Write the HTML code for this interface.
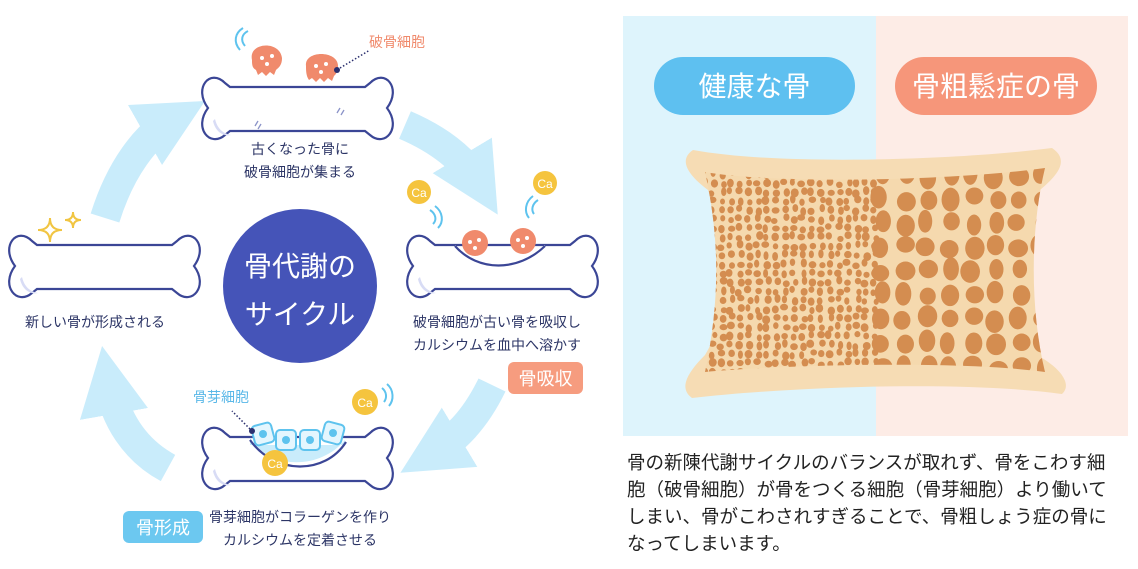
<!DOCTYPE html>
<html><head><meta charset="utf-8">
<style>
html,body{margin:0;padding:0;background:#fff;}
body{width:1138px;height:569px;position:relative;overflow:hidden;font-family:"Liberation Sans","Noto Sans CJK JP",sans-serif;}
.t{position:absolute;color:#2c3566;font-size:14px;white-space:nowrap;text-align:center;line-height:23px}
.p{position:absolute;color:#222;font-size:18.5px;left:627px;line-height:27px;white-space:nowrap}
</style></head><body>
<svg width="1138" height="569" style="position:absolute;left:0;top:0" xmlns="http://www.w3.org/2000/svg">
<defs>
<g id="bone">
 <path d="M20,10 C5,-5 -12,15 3,35 C-12,55 5,75 20,62 L25,58 L160,58 L165,62 C180,75 197,55 182,35 C197,15 180,-5 165,10 L160,14 L25,14 Z" fill="#fff" stroke="#3b4696" stroke-width="2.2"/>
 <path d="M8,48 C10,58 18,64 26,62 C16,60 12,54 10,46Z" fill="#d8dcf5"/>
</g>
<marker id="ah" viewBox="0 0 10 10" refX="5" refY="5" markerWidth="2.3" markerHeight="2.3" orient="auto"><path d="M0,0 L10,5 L0,10Z" fill="#c9ecfb"/></marker>
<clipPath id="inner"><path d="M705,172 C780,185 960,180 1045,168 C1030,230 1030,310 1045,372 C960,360 780,365 705,372 C720,300 720,240 705,172Z"/></clipPath>
</defs>
<g fill="none" stroke="#c9ecfb" stroke-width="30" marker-end="url(#ah)">
 <path d="M105,218 C120,170 145,135 175,118"/>
 <path d="M405,125 C440,140 465,160 480,185"/>
 <path d="M492,385 C475,420 455,440 430,455"/>
 <path d="M168,468 C135,450 115,420 108,380"/>
</g>
<use href="#bone" transform="translate(205,73)"/>
<use href="#bone" transform="translate(12,231)"/>
<use href="#bone" transform="translate(410,231)"/>
<use href="#bone" transform="translate(205,423)"/>
<g stroke="#8a93c8" stroke-width="1.3"><line x1="255" y1="126" x2="258" y2="121"/><line x1="258" y1="129" x2="261" y2="124"/><line x1="337" y1="113" x2="340" y2="108"/><line x1="341" y1="115" x2="344" y2="110"/></g>
<g fill="#f08a6c">
 <path d="M252,60 C248,42 280,40 282,58 C282,66 278,68 276,70 L274,75 L270,72 L266,76 L262,72 L258,75 L256,70 C252,68 252,64 252,60Z"/>
 <path d="M306,66 C304,50 338,50 338,66 C338,72 336,74 334,76 L332,81 L328,78 L324,82 L320,78 L316,82 L312,78 L309,80 C306,76 306,70 306,66Z"/>
</g>
<g fill="#fff"><circle cx="262" cy="58" r="2"/><circle cx="272" cy="56" r="2"/><circle cx="267" cy="64" r="2"/><circle cx="316" cy="66" r="2"/><circle cx="326" cy="64" r="2"/><circle cx="321" cy="72" r="2"/></g>
<circle cx="337" cy="70" r="3" fill="#2a2f6e"/>
<line x1="340" y1="68" x2="370" y2="50" stroke="#2a2f6e" stroke-width="1.5" stroke-dasharray="1.5 2"/>
<text x="369" y="47" font-size="14" fill="#f08a6c" font-family="Liberation Sans,Noto Sans CJK JP,sans-serif">破骨細胞</text>
<g fill="none" stroke="#5ec3ee" stroke-width="2"><path d="M245,46 C240,40 242,34 248,31"/><path d="M240,50 C233,42 235,33 243,28"/></g>
<g fill="none" stroke="#f1c542" stroke-width="2"><path d="M50,218 Q50,230 38,230 Q50,230 50,242 Q50,230 62,230 Q50,230 50,218Z"/><path d="M73,212 Q73,220 65,220 Q73,220 73,228 Q73,220 81,220 Q73,220 73,212Z"/></g>
<path d="M455,245 C475,270 515,270 545,245 L545,249 L455,249Z" fill="#fff"/>
<path d="M455,246 C478,272 518,272 545,246" fill="none" stroke="#3b4696" stroke-width="2.2"/>
<g fill="#f08a6c"><circle cx="475" cy="243" r="13"/><circle cx="523" cy="241" r="13"/></g>
<g fill="#fff"><circle cx="470" cy="242" r="2"/><circle cx="479" cy="240" r="2"/><circle cx="475" cy="248" r="2"/><circle cx="518" cy="240" r="2"/><circle cx="527" cy="238" r="2"/><circle cx="523" cy="246" r="2"/></g>
<circle cx="419" cy="192" r="12" fill="#f5c43e"/><text x="419" y="197" font-size="12" fill="#fff" text-anchor="middle">Ca</text>
<circle cx="545" cy="183" r="12" fill="#f5c43e"/><text x="545" y="188" font-size="12" fill="#fff" text-anchor="middle">Ca</text>
<g fill="none" stroke="#5ec3ee" stroke-width="2"><path d="M430,210 C436,214 437,220 433,224"/><path d="M435,206 C443,212 444,222 438,228"/><path d="M538,200 C532,204 531,210 534,214"/><path d="M533,196 C525,202 524,212 529,218"/></g>
<path d="M250,438 C270,470 320,470 345,440 L345,445 L250,445Z" fill="#c9ecfb"/>
<path d="M250,440 C275,475 325,475 346,442" fill="none" stroke="#3b4696" stroke-width="2.2"/>
<g fill="#e4f6fe" stroke="#5ec3ee" stroke-width="2">
 <rect x="253" y="424" width="20" height="20" rx="4" transform="rotate(-15 263 434)"/>
 <rect x="276" y="430" width="20" height="20" rx="4"/>
 <rect x="300" y="430" width="20" height="20" rx="4"/>
 <rect x="323" y="423" width="20" height="20" rx="4" transform="rotate(15 333 433)"/>
</g>
<g fill="#5ec3ee"><circle cx="263" cy="434" r="4"/><circle cx="286" cy="440" r="4"/><circle cx="310" cy="440" r="4"/><circle cx="333" cy="433" r="4"/></g>
<circle cx="252" cy="431" r="3" fill="#2a2f6e"/>
<line x1="250" y1="429" x2="232" y2="411" stroke="#2a2f6e" stroke-width="1.5" stroke-dasharray="1.5 2"/>
<text x="193" y="402" font-size="14" fill="#5ab8e8">骨芽細胞</text>
<circle cx="275" cy="463" r="13" fill="#f5c43e"/><text x="275" y="468" font-size="12" fill="#fff" text-anchor="middle">Ca</text>
<circle cx="365" cy="402" r="13" fill="#f5c43e"/><text x="365" y="407" font-size="12" fill="#fff" text-anchor="middle">Ca</text>
<g fill="none" stroke="#5ec3ee" stroke-width="2"><path d="M382,388 C387,392 387,398 384,402"/><path d="M387,384 C394,390 394,400 389,406"/></g>
<circle cx="300" cy="286" r="77" fill="#4554b8"/>
<text x="300" y="276" font-size="28" fill="#fff" text-anchor="middle">骨代謝の</text>
<text x="300" y="324" font-size="28" fill="#fff" text-anchor="middle">サイクル</text>
<rect x="508" y="362" width="75" height="32" rx="6" fill="#f69c7f"/><text x="545.5" y="385" font-size="18" fill="#fff" text-anchor="middle">骨吸収</text>
<rect x="123" y="511" width="80" height="32" rx="6" fill="#6cc8f0"/><text x="163" y="534" font-size="18" fill="#fff" text-anchor="middle">骨形成</text>

<rect x="623" y="16" width="253" height="420" fill="#def4fc"/>
<rect x="876" y="16" width="252" height="420" fill="#fdece6"/>
<rect x="654" y="57" width="201" height="58" rx="29" fill="#5ec0f0"/>
<text x="754.5" y="96" font-size="28" fill="#fff" text-anchor="middle">健康な骨</text>
<rect x="895" y="57" width="202" height="58" rx="29" fill="#f6967a"/>
<text x="996" y="96" font-size="28" fill="#fff" text-anchor="middle">骨粗鬆症の骨</text>
<path d="M693,150 C780,166 960,160 1052,148 C1070,160 1058,175 1040,190 C1020,240 1020,320 1042,358 C1062,370 1072,385 1062,394 C960,380 790,387 692,398 C678,388 688,372 705,355 C728,320 728,240 708,190 C688,175 678,160 693,150Z" fill="#f6dcb4"/>
<path d="M705,172 C780,185 960,180 1045,168 C1030,230 1030,310 1045,372 C960,360 780,365 705,372 C720,300 720,240 705,172Z" fill="#f5d9ae"/>
<g id="holes" clip-path="url(#inner)"></g>
</svg>
<div class="t" style="left:200px;top:138px;width:200px">古くなった骨に<br>破骨細胞が集まる</div>
<div class="t" style="left:0px;top:311px;width:190px">新しい骨が形成される</div>
<div class="t" style="left:397px;top:311px;width:200px">破骨細胞が古い骨を吸収し<br>カルシウムを血中へ溶かす</div>
<div class="t" style="left:200px;top:506px;width:200px">骨芽細胞がコラーゲンを作り<br>カルシウムを定着させる</div>
<div class="p" style="top:449px">骨の新陳代謝サイクルのバランスが取れず、骨をこわす細<br>胞（破骨細胞）が骨をつくる細胞（骨芽細胞）より働いて<br>しまい、骨がこわされすぎることで、骨粗しょう症の骨に<br>なってしまいます。</div>
<script>
(function(){
var g=document.getElementById('holes'),s=1,h='';
function r(){s=(s*16807)%2147483647;return s/2147483647;}
for(var y=172;y<375;y+=9){for(var x=702;x<875;x+=9){var cx=x+r()*4,cy=y+r()*4,rx=2.5+r()*1.5,ry=3+r()*1.5;
h+='<ellipse cx="'+cx+'" cy="'+cy+'" rx="'+rx+'" ry="'+ry+'" fill="#d48d50"/>';}}
for(var y=172;y<380;y+=24){for(var x=878;x<1050;x+=23){var cx=x+r()*6,cy=y+r()*6,rx=7+r()*3,ry=8+r()*4;
h+='<ellipse cx="'+cx+'" cy="'+cy+'" rx="'+rx+'" ry="'+ry+'" fill="#d48d50"/>';}}
g.innerHTML=h;})();
</script>
</body></html>
